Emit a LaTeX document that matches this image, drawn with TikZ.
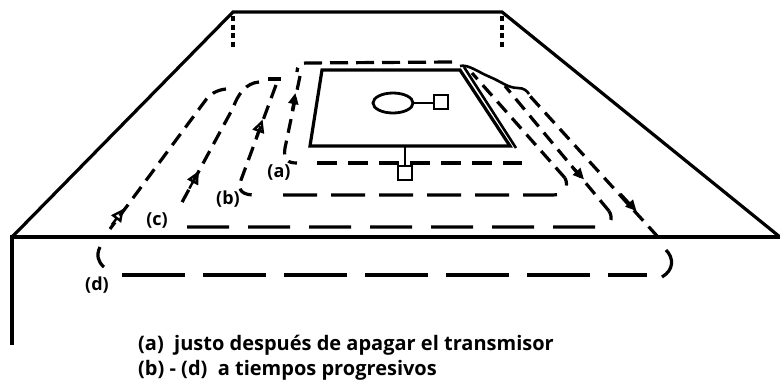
\documentclass[tikz,border=0pt]{standalone}
\usepackage{fontspec}
\setmainfont{Open Sans}
\usetikzlibrary{arrows.meta}
\begin{document}
\begin{tikzpicture}[x=1pt,y=-1pt,
  outline/.style={line width=3.2pt, line join=miter},
  plate/.style={line width=3.2pt, line join=miter},
  sidedash/.style={line width=3.2pt, dash pattern=on 14pt off 8pt},
  tipopen/.style={line width=2.4pt, -{Triangle[open,length=13pt,width=12pt]}},
  tipfull/.style={line width=2.5pt, -{Triangle[length=11pt,width=10pt]}},
  lbl/.style={font=\bfseries\fontsize{18}{21}\selectfont, inner sep=0pt},
  caption/.style={font=\bfseries\fontsize{20}{23}\selectfont, inner sep=0pt, anchor=base west}]
\useasboundingbox (0,0) rectangle (780,389);

% ground outline seen in perspective
\coordinate (tl) at (233,12);
\coordinate (tr) at (502,12);
\coordinate (ml) at (12,237);
\coordinate (mr) at (780,237);
\coordinate (bl) at (12,345);
\draw[outline] (ml) -- (tl) -- (tr) -- (mr);
\draw[outline] (bl) -- (ml) -- (mr);
\draw[line width=3.2pt, dash pattern=on 5pt off 3.5pt] (233,16) -- (233,47);
\draw[line width=3.2pt, dash pattern=on 5pt off 3.5pt] (502,16) -- (502,47);

% transmitter loop with coil and receiver
\draw[plate] (322,70) -- (460,70) -- (510,146) -- (310,146) -- cycle;
\draw[line width=2.8pt] (393,103) ellipse (20pt and 10pt);
\draw[line width=2.8pt] (413,103) -- (434,103);
\draw[line width=2.8pt] (434,95) rectangle (448,109);
\draw[line width=2.8pt] (405,146) -- (405,166);
\draw[line width=2.8pt] (398,166) rectangle (412,180);

% edge where the current filaments bunch up on the right
\draw[line width=2.6pt] (460,66) .. controls (468,64) and (478,72) .. (490,77)
  .. controls (502,82) and (508,88) .. (518,88) .. controls (524,88) and (527,91) .. (529,94);
\draw[line width=2.6pt] (464,67) -- (516,148);

% loop (a)
\draw[line width=3.2pt, dash pattern=on 18pt off 8pt] (452,62) -- (306,63)
  .. controls (299,63) and (297,68) .. (297,72);
\draw[sidedash] (300,76) -- (285,148) .. controls (283,160) and (288,163) .. (297,163);
\draw[line width=3.2pt, dash pattern=on 20pt off 11pt] (317,163) -- (522,163);
\draw[tipfull] (292,110.6) -- (295.4,93.1);

% loop (b)
\draw[line width=3.2pt] (281,79) -- (268,79);
\draw[sidedash] (276,85) -- (241,180) .. controls (237,191) and (243,195) .. (255,195);
\draw[line width=3.2pt, dash pattern=on 34pt off 14pt] (283,195) -- (553,195)
  .. controls (565,195) and (569,186) .. (565,178);
\draw[sidedash] (565,178) -- (472,73);
\draw[tipopen] (255.9,138.3) -- (262.6,119.5);

% loop (c)
\draw[sidedash] (259,82) .. controls (246,83) and (238,94) .. (233,108) -- (180,206);
\draw[line width=3.2pt, dash pattern=on 42pt off 19pt] (187,227) -- (600,227)
  .. controls (610,227) and (614,219) .. (609,211);
\draw[sidedash] (609,211) -- (505,86);
\draw[tipopen] (189.3,188.6) -- (198.8,171);
\draw[tipfull] (571.6,166) -- (584,179.4);

% loop (d)
\draw[sidedash] (226,89) .. controls (216,90) and (209,95) .. (205,101) -- (110,229);
\draw[line width=3.2pt] (100,247) .. controls (96,255) and (98,262) .. (104,267);
\draw[line width=3.2pt, dash pattern=on 63pt off 18pt] (122,275) -- (647,275);
\draw[line width=3.2pt] (666,250) .. controls (674,258) and (674,270) .. (662,277);
\draw[sidedash] (658,237) -- (529,95);
\draw[tipopen] (111.9,224.7) -- (123.8,208.6);
\draw[tipfull] (620.7,193.9) -- (636.5,211.1);

% loop labels
\node[lbl] (la) at (279,172) {(a)};
\node[lbl] (lb) at (228,199) {(b)};
\node[lbl] (lc) at (157,220) {(c)};
\node[lbl] (ld) at (97,285) {(d)};

% legend
\node[caption] (c1) at (138,350) {(a)\ \ justo después de apagar el transmisor};
\node[caption] (c2) at (138,375) {(b) - (d)\ \ a tiempos progresivos};
\end{tikzpicture}
\end{document}
